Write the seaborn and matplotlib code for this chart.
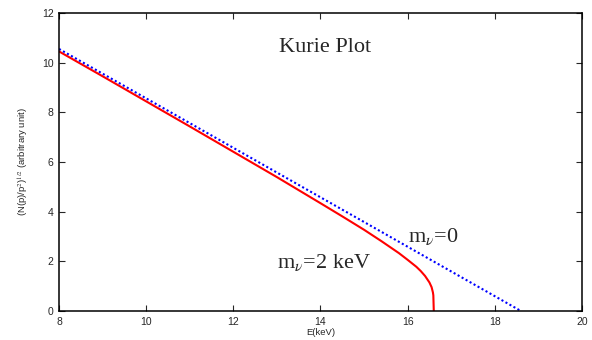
import matplotlib
matplotlib.use("Agg")
from matplotlib import pyplot as plt
import seaborn as sns

# energy (keV) and Kurie values
e_massless = [8.0, 18.6]
k_massless = [10.55, 0.0]

e_massive = [8.0, 9.0, 10.0, 11.0, 12.0, 13.0, 14.0, 14.5, 15.0, 15.4, 15.8,
             16.0, 16.2, 16.3, 16.4, 16.5, 16.55, 16.58, 16.59, 16.6]
k_massive = [10.45, 9.45, 8.44, 7.43, 6.41, 5.39, 4.34, 3.81, 3.27, 2.81, 2.33,
             2.06, 1.78, 1.61, 1.41, 1.15, 0.96, 0.75, 0.63, 0.0]

x_ticks = [8, 10, 12, 14, 16, 18, 20]
y_ticks = [0, 2, 4, 6, 8, 10, 12]

sns.set_style("ticks")
plt.rcParams["font.family"] = ["Liberation Sans", "DejaVu Sans"]
plt.rcParams["mathtext.fontset"] = "stix"

fig = plt.figure(figsize=(5.92, 3.4), dpi=100)
ax = fig.add_axes([0.0997, 0.0853, 0.8833, 0.8767])

sns.lineplot(x=e_massive, y=k_massive, sort=False, color="#ff0000", lw=1.5, ax=ax)
sns.lineplot(x=e_massless, y=k_massless, sort=False, color="#0000ff", lw=1.5,
             linestyle=(0, (1, 1.2)), ax=ax)

ax.set_xlim(8, 20)
ax.set_ylim(0, 12)
ax.set_xticks(x_ticks)
ax.set_yticks(y_ticks)
ax.tick_params(direction="in", top=True, right=True, length=4, width=0.8,
               labelsize=7.5, pad=4)
for s in ax.spines.values():
    s.set_linewidth(1.1)
    s.set_color("black")

ax.set_xlabel("E(keV)", fontsize=6.8, labelpad=1)
ax.set_ylabel(r"(N(p)/p$^2$)$^{1/2}$ (arbitrary unit)", fontsize=6.8, labelpad=8)

serif = ["Liberation Serif", "DejaVu Serif"]
ax.text(14.1, 10.6, "Kurie Plot", family=serif, fontsize=16, ha="center", va="center")
ax.text(16.0, 3.0, r"m$_\nu$=0", family=serif, fontsize=16, ha="left", va="center")
ax.text(13.0, 1.95, r"m$_\nu$=2 keV", family=serif, fontsize=16, ha="left", va="center")

fig.savefig("out.png", dpi=100)
